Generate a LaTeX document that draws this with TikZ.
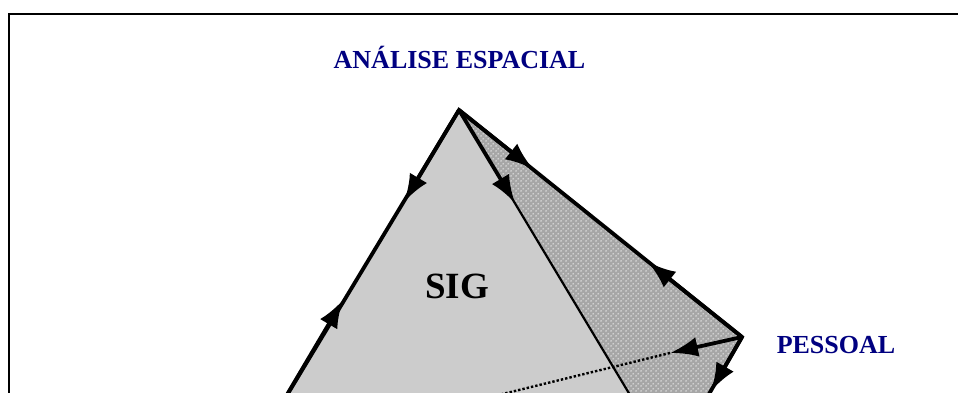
\documentclass[tikz,border=0pt]{standalone}
\usepackage{fontspec}
\setmainfont{Liberation Serif}
\usetikzlibrary{arrows.meta,patterns}
\definecolor{navyblue}{RGB}{0,0,128}
\definecolor{frontgray}{HTML}{CCCCCC}
\definecolor{backgray}{HTML}{A6A6A6}
\definecolor{dotgray}{HTML}{D6D6D6}
\pgfdeclarepatternformonly{lightdots}{\pgfpointorigin}{\pgfqpoint{4.6pt}{4.6pt}}{\pgfqpoint{4.6pt}{4.6pt}}{%
  \pgfpathcircle{\pgfqpoint{1.15pt}{1.15pt}}{1.0pt}%
  \pgfpathcircle{\pgfqpoint{3.45pt}{3.45pt}}{1.0pt}%
  \pgfusepath{fill}}
\tikzset{
  edgethick/.style={line width=3.8pt, line join=miter},
  edgethin/.style={line width=2.2pt},
  arr/.style={line width=3.8pt, -{Latex[length=28pt,width=20pt]}},
  hidden/.style={line width=2.4pt, dotted},
  lbl/.style={font=\bfseries\fontsize{26}{28}\selectfont, text=navyblue, inner sep=0pt, anchor=base},
  biglbl/.style={font=\bfseries\fontsize{37}{40}\selectfont, text=black, inner sep=0pt, anchor=base},
}
\begin{document}
\begin{tikzpicture}[x=1pt,y=-1pt]
\useasboundingbox (0,0) rectangle (958,392);
\clip (0,0) rectangle (958,392);
% coordinates
\coordinate (apex) at (459,110);
\coordinate (pes) at (742,337);
\coordinate (leftbot) at (272,420);
\coordinate (innerbot) at (645,420);
\coordinate (pesbot) at (694,420);
\coordinate (hidbot) at (380,424);
\coordinate (tipL) at (404,202);
\coordinate (tipLup) at (343,300);
\coordinate (tipI) at (515,203);
\coordinate (tipO) at (533,169);
\coordinate (tipOup) at (648,262);
\coordinate (tipH) at (670,353);
\coordinate (tipD) at (711,391);
% frame
\draw[line width=2.2pt] (9,420) -- (9,13.7) -- (980,13.7);
% faces
\fill[frontgray] (apex) -- (leftbot) -- (innerbot) -- cycle;
\fill[backgray] (apex) -- (pes) -- (pesbot) -- (innerbot) -- cycle;
\fill[pattern=lightdots, pattern color=dotgray] (apex) -- (pes) -- (pesbot) -- (innerbot) -- cycle;
% hidden edge
\draw[hidden] (tipH) -- (hidbot);
% edges
\draw[edgethin] (apex) -- (innerbot);
\draw[edgethick] (leftbot) -- (apex) -- (pes) -- (pesbot);
% arrows
\draw[arr] (apex) -- (tipL);
\draw[arr] (leftbot) -- (tipLup);
\draw[arr] (apex) -- (tipI);
\draw[arr] (apex) -- (tipO);
\draw[arr] (pes) -- (tipOup);
\draw[arr] (pes) -- (tipH);
\draw[arr] (pes) -- (tipD);
% labels
\node[lbl] (analise) at (459.5,68.5) {ANÁLISE ESPACIAL};
\node[lbl] (pessoal) at (836,353) {PESSOAL};
\node[biglbl] (sig) at (457,298) {SIG};
\end{tikzpicture}
\end{document}
